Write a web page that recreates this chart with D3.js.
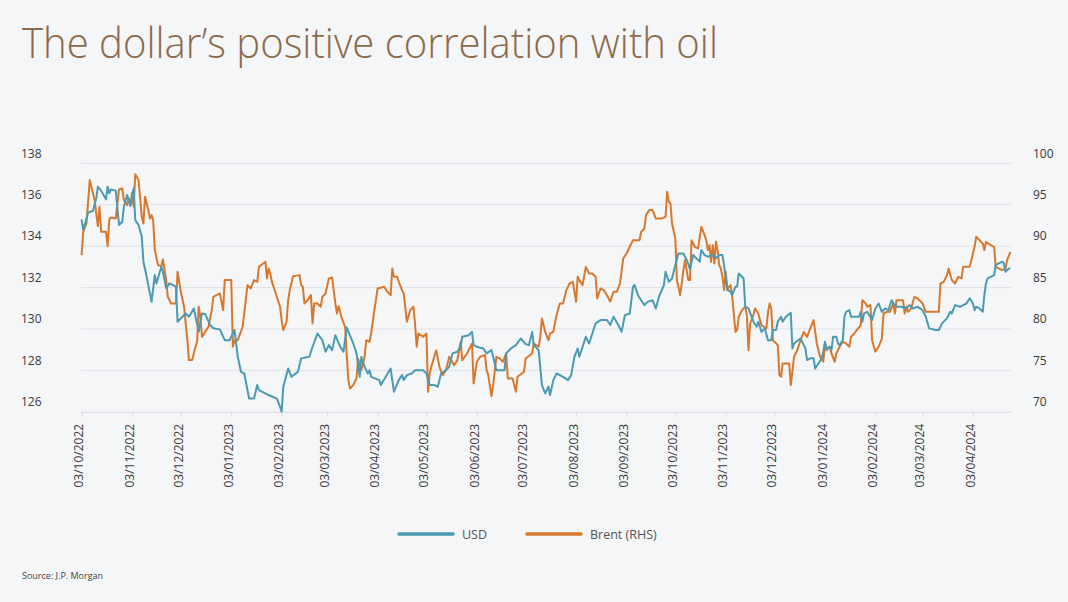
<!DOCTYPE html>
<html>
<head>
<meta charset="utf-8">
<script src="https://cdn.jsdelivr.net/npm/d3@7"></script>
<style>
body{margin:0;background:#f5f6f8;}
text{font-family:"Open Sans",sans-serif;}
</style>
</head>
<body>
<div id="chart"></div>
<script>
// values, USD on left axis, Brent on right
var usdSeries=[
["2022-10-03",135.29],["2022-10-04",134.78],["2022-10-07",135.61],["2022-10-10",135.71],["2022-10-12",136.31],
["2022-10-13",136.87],["2022-10-15",136.68],["2022-10-18",136.26],["2022-10-19",136.87],["2022-10-20",136.55],
["2022-10-21",136.74],["2022-10-24",136.68],["2022-10-26",135.02],["2022-10-28",135.18],["2022-10-29",135.90],
["2022-10-31",136.47],["2022-11-02",135.94],["2022-11-04",136.79],["2022-11-05",135.26],["2022-11-07",135.02],
["2022-11-09",134.45],["2022-11-10",133.25],["2022-11-12",132.52],["2022-11-15",131.31],["2022-11-17",132.60],
["2022-11-18",132.20],["2022-11-21",133.00],["2022-11-22",132.76],["2022-11-24",131.96],["2022-11-26",132.20],
["2022-11-30",132.04],["2022-12-01",130.35],["2022-12-06",130.75],["2022-12-08",130.59],["2022-12-11",130.99],
["2022-12-14",129.86],["2022-12-16",130.75],["2022-12-18",130.72],["2022-12-21",130.19],["2022-12-23",130.03],
["2022-12-27",129.98],["2022-12-30",129.46],["2023-01-02",129.46],["2023-01-05",129.95],["2023-01-07",128.66],
["2023-01-09",127.93],["2023-01-11",127.85],["2023-01-14",126.64],["2023-01-17",126.64],["2023-01-19",127.29],
["2023-01-20",127.05],["2023-01-26",126.81],["2023-01-31",126.64],["2023-02-02",126.24],["2023-02-03",126.00],
["2023-02-04",127.21],["2023-02-07",128.09],["2023-02-09",127.69],["2023-02-13",127.93],["2023-02-15",128.58],
["2023-02-20",128.66],["2023-02-22",129.14],["2023-02-25",129.78],["2023-02-28",129.46],["2023-03-02",128.90],
["2023-03-04",129.22],["2023-03-06",128.98],["2023-03-08",129.70],["2023-03-11",129.14],["2023-03-13",128.90],
["2023-03-15",130.07],["2023-03-19",129.30],["2023-03-21",128.82],["2023-03-23",127.69],["2023-03-24",128.66],
["2023-03-26",128.17],["2023-03-28",127.85],["2023-03-29",128.01],["2023-03-30",127.69],["2023-04-04",127.53],
["2023-04-05",127.29],["2023-04-11",128.09],["2023-04-13",126.97],["2023-04-16",127.53],["2023-04-18",127.77],
["2023-04-19",127.53],["2023-04-21",127.77],["2023-04-24",127.85],["2023-04-26",128.01],["2023-05-01",128.01],
["2023-05-03",127.85],["2023-05-05",127.29],["2023-05-08",127.29],["2023-05-10",127.21],["2023-05-12",127.85],
["2023-05-15",128.01],["2023-05-17",128.17],["2023-05-19",128.82],["2023-05-22",128.90],["2023-05-24",129.14],
["2023-05-25",129.62],["2023-05-29",129.70],["2023-05-31",129.86],["2023-06-01",129.22],["2023-06-03",129.14],
["2023-06-07",129.06],["2023-06-09",128.82],["2023-06-12",128.98],["2023-06-13",128.66],["2023-06-15",128.01],
["2023-06-20",128.01],["2023-06-21",128.82],["2023-06-24",129.06],["2023-06-27",129.22],["2023-06-30",129.54],
["2023-07-03",129.27],["2023-07-05",129.22],["2023-07-07",129.86],["2023-07-08",129.22],["2023-07-11",128.98],
["2023-07-13",127.29],["2023-07-15",126.89],["2023-07-17",127.21],["2023-07-18",126.81],["2023-07-20",127.53],
["2023-07-22",127.85],["2023-07-26",127.69],["2023-07-29",127.53],["2023-07-31",127.77],["2023-08-02",128.66],
["2023-08-04",129.06],["2023-08-05",128.66],["2023-08-07",129.14],["2023-08-09",129.62],["2023-08-11",129.30],
["2023-08-13",129.78],["2023-08-15",130.27],["2023-08-18",130.43],["2023-08-22",130.43],["2023-08-24",130.19],
["2023-08-26",130.59],["2023-08-29",130.19],["2023-08-31",129.86],["2023-09-02",130.67],["2023-09-05",130.75],
["2023-09-07",132.04],["2023-09-08",132.12],["2023-09-10",131.64],["2023-09-12",131.39],["2023-09-14",131.15],
["2023-09-16",131.31],["2023-09-19",131.39],["2023-09-21",130.99],["2023-09-23",131.56],["2023-09-26",132.12],
["2023-09-27",132.76],["2023-09-29",132.28],["2023-10-01",132.44],["2023-10-03",133.09],["2023-10-05",133.65],
["2023-10-08",133.65],["2023-10-10",133.33],["2023-10-12",132.90],["2023-10-14",133.57],["2023-10-16",133.41],
["2023-10-18",133.25],["2023-10-19",133.81],["2023-10-21",133.57],["2023-10-23",133.49],["2023-10-26",133.57],
["2023-10-28",133.41],["2023-10-30",133.57],["2023-11-01",133.57],["2023-11-03",132.52],["2023-11-04",131.88],
["2023-11-06",131.80],["2023-11-07",131.64],["2023-11-09",132.04],["2023-11-10",132.04],["2023-11-11",132.68],
["2023-11-13",132.52],["2023-11-14",132.44],["2023-11-15",131.07],["2023-11-17",130.99],["2023-11-20",130.35],
["2023-11-22",130.11],["2023-11-23",130.35],["2023-11-25",129.86],["2023-11-27",130.03],["2023-11-29",129.46],
["2023-12-01",129.46],["2023-12-02",129.95],["2023-12-04",129.95],["2023-12-05",130.35],["2023-12-07",130.59],
["2023-12-08",130.35],["2023-12-10",130.59],["2023-12-13",130.78],["2023-12-14",129.06],["2023-12-15",129.30],
["2023-12-19",129.54],["2023-12-21",129.22],["2023-12-22",129.06],["2023-12-23",128.50],["2023-12-25",128.58],
["2023-12-27",128.58],["2023-12-28",128.09],["2023-12-30",128.33],["2024-01-01",128.58],["2024-01-02",128.90],
["2024-01-03",129.38],["2024-01-04",129.06],["2024-01-06",129.14],["2024-01-07",128.98],["2024-01-08",129.62],
["2024-01-10",129.62],["2024-01-11",129.30],["2024-01-12",129.22],["2024-01-14",129.46],["2024-01-15",130.59],
["2024-01-16",130.83],["2024-01-18",130.91],["2024-01-19",130.59],["2024-01-24",130.59],["2024-01-25",130.83],
["2024-01-26",130.35],["2024-01-27",130.75],["2024-01-29",130.83],["2024-02-01",130.43],["2024-02-03",130.99],
["2024-02-05",131.23],["2024-02-07",130.83],["2024-02-09",130.99],["2024-02-11",130.91],["2024-02-13",131.39],
["2024-02-14",131.23],["2024-02-16",131.07],["2024-02-19",131.07],["2024-02-22",130.99],["2024-02-24",131.15],
["2024-02-26",130.99],["2024-02-29",131.07],["2024-03-03",130.91],["2024-03-05",130.59],["2024-03-07",130.03],
["2024-03-11",129.95],["2024-03-13",129.95],["2024-03-15",130.27],["2024-03-18",130.51],["2024-03-20",130.83],
["2024-03-21",130.75],["2024-03-23",131.15],["2024-03-26",131.07],["2024-03-28",131.15],["2024-03-30",131.23],
["2024-04-01",131.48],["2024-04-03",131.23],["2024-04-04",130.91],["2024-04-05",131.07],["2024-04-07",130.99],
["2024-04-09",130.83],["2024-04-10",131.64],["2024-04-11",132.20],["2024-04-12",132.44],["2024-04-16",132.60],
["2024-04-17",133.09],["2024-04-21",133.25],["2024-04-22",133.17],["2024-04-23",132.76],["2024-04-25",132.92],
["2024-04-26",132.92]
];
var brentSeries=[
["2022-10-03",88.91],["2022-10-04",91.73],["2022-10-06",92.74],["2022-10-08",97.97],["2022-10-09",97.16],
["2022-10-11",95.55],["2022-10-12",93.94],["2022-10-13",92.41],["2022-10-14",94.75],["2022-10-15",91.73],
["2022-10-18",91.73],["2022-10-19",90.00],["2022-10-20",93.22],["2022-10-21",93.46],["2022-10-24",93.34],
["2022-10-26",96.84],["2022-10-28",96.96],["2022-10-29",95.55],["2022-10-31",94.95],["2022-11-01",95.75],
["2022-11-02",94.95],["2022-11-03",96.44],["2022-11-04",94.75],["2022-11-05",98.69],["2022-11-07",97.97],
["2022-11-09",93.54],["2022-11-10",92.74],["2022-11-11",95.96],["2022-11-13",94.35],["2022-11-14",93.34],
["2022-11-15",93.74],["2022-11-16",93.14],["2022-11-17",89.52],["2022-11-19",87.71],["2022-11-21",87.59],
["2022-11-22",88.39],["2022-11-24",85.90],["2022-11-25",83.88],["2022-11-27",83.08],["2022-11-30",83.08],
["2022-12-01",86.90],["2022-12-03",84.49],["2022-12-05",82.68],["2022-12-07",78.65],["2022-12-08",76.24],
["2022-12-10",76.24],["2022-12-12",77.85],["2022-12-13",78.45],["2022-12-14",82.68],["2022-12-15",81.47],
["2022-12-16",79.05],["2022-12-20",80.26],["2022-12-22",82.27],["2022-12-23",83.88],["2022-12-27",84.29],
["2022-12-29",82.27],["2022-12-30",85.90],["2023-01-03",85.90],["2023-01-04",77.85],["2023-01-05",78.65],
["2023-01-07",78.65],["2023-01-10",80.26],["2023-01-13",85.29],["2023-01-15",84.89],["2023-01-17",85.90],
["2023-01-19",85.69],["2023-01-20",87.50],["2023-01-24",88.11],["2023-01-25",86.10],["2023-01-26",87.30],
["2023-01-27",86.70],["2023-01-28",85.69],["2023-01-30",84.49],["2023-02-02",82.68],["2023-02-03",81.07],
["2023-02-04",79.86],["2023-02-06",80.87],["2023-02-07",83.48],["2023-02-08",84.69],["2023-02-10",86.38],
["2023-02-14",86.50],["2023-02-15",85.29],["2023-02-16",85.09],["2023-02-17",83.08],["2023-02-19",83.48],
["2023-02-21",84.08],["2023-02-22",80.66],["2023-02-23",83.08],["2023-02-25",83.08],["2023-02-27",82.68],
["2023-02-28",83.88],["2023-03-02",84.29],["2023-03-04",86.10],["2023-03-06",86.22],["2023-03-08",83.08],
["2023-03-09",81.87],["2023-03-10",82.76],["2023-03-12",81.27],["2023-03-14",80.26],["2023-03-15",76.84],
["2023-03-16",73.82],["2023-03-17",72.80],["2023-03-19",73.22],["2023-03-21",74.02],["2023-03-22",76.40],
["2023-03-24",75.03],["2023-03-26",76.64],["2023-03-27",78.65],["2023-03-29",78.45],["2023-03-30",79.46],
["2023-04-01",82.27],["2023-04-03",84.89],["2023-04-07",85.09],["2023-04-09",84.49],["2023-04-11",84.08],
["2023-04-12",87.30],["2023-04-13",86.30],["2023-04-15",86.30],["2023-04-16",85.69],["2023-04-18",84.69],
["2023-04-19",84.29],["2023-04-21",80.87],["2023-04-23",82.27],["2023-04-25",82.68],["2023-04-26",80.66],
["2023-04-27",77.85],["2023-04-28",79.46],["2023-05-01",79.05],["2023-05-03",79.46],["2023-05-04",72.41],
["2023-05-05",74.63],["2023-05-06",75.43],["2023-05-09",77.44],["2023-05-11",75.43],["2023-05-13",74.43],
["2023-05-15",75.03],["2023-05-17",76.64],["2023-05-20",75.63],["2023-05-22",76.24],["2023-05-24",78.45],
["2023-05-25",76.24],["2023-05-28",77.04],["2023-05-31",78.25],["2023-06-01",73.42],["2023-06-03",76.04],
["2023-06-05",76.64],["2023-06-08",76.84],["2023-06-09",75.03],["2023-06-10",74.43],["2023-06-12",71.89],
["2023-06-13",73.22],["2023-06-15",76.64],["2023-06-17",76.44],["2023-06-19",76.04],["2023-06-21",77.04],
["2023-06-22",74.02],["2023-06-25",74.02],["2023-06-27",72.41],["2023-06-28",74.23],["2023-07-02",74.83],
["2023-07-03",76.44],["2023-07-07",77.04],["2023-07-08",78.25],["2023-07-11",77.85],["2023-07-12",79.05],
["2023-07-13",81.27],["2023-07-15",79.66],["2023-07-17",78.65],["2023-07-18",79.46],["2023-07-20",79.66],
["2023-07-22",81.67],["2023-07-24",83.08],["2023-07-26",83.08],["2023-07-28",84.69],["2023-07-30",85.49],
["2023-08-01",85.69],["2023-08-03",83.28],["2023-08-04",86.30],["2023-08-05",85.90],["2023-08-07",85.29],
["2023-08-09",87.50],["2023-08-11",86.70],["2023-08-13",86.70],["2023-08-15",86.30],["2023-08-16",83.68],
["2023-08-18",84.89],["2023-08-20",84.69],["2023-08-22",84.08],["2023-08-24",83.28],["2023-08-26",84.49],
["2023-08-28",84.49],["2023-08-30",85.49],["2023-09-01",88.51],["2023-09-03",89.11],["2023-09-05",89.92],
["2023-09-07",90.72],["2023-09-11",90.72],["2023-09-12",91.73],["2023-09-14",92.13],["2023-09-15",93.74],
["2023-09-17",94.35],["2023-09-19",94.35],["2023-09-21",93.34],["2023-09-25",93.34],["2023-09-27",93.54],
["2023-09-28",96.56],["2023-09-29",95.35],["2023-09-30",95.15],["2023-10-01",92.74],["2023-10-03",90.93],
["2023-10-04",85.90],["2023-10-06",84.08],["2023-10-08",87.10],["2023-10-09",88.31],["2023-10-11",85.90],
["2023-10-12",85.90],["2023-10-13",90.72],["2023-10-15",89.92],["2023-10-17",89.72],["2023-10-19",92.33],
["2023-10-21",91.33],["2023-10-22",90.72],["2023-10-23",89.52],["2023-10-24",90.12],["2023-10-25",88.11],
["2023-10-26",90.12],["2023-10-27",87.91],["2023-10-28",90.52],["2023-10-29",89.52],["2023-10-30",87.71],
["2023-10-31",87.30],["2023-11-01",86.30],["2023-11-02",84.69],["2023-11-03",86.90],["2023-11-04",84.69],
["2023-11-05",85.09],["2023-11-06",85.29],["2023-11-07",83.88],["2023-11-09",79.66],["2023-11-10",79.86],
["2023-11-11",81.47],["2023-11-13",82.27],["2023-11-15",82.68],["2023-11-16",81.67],["2023-11-17",77.44],
["2023-11-18",80.66],["2023-11-20",81.67],["2023-11-21",82.47],["2023-11-23",81.87],["2023-11-25",80.46],
["2023-11-28",80.06],["2023-11-29",82.07],["2023-11-30",83.08],["2023-12-01",82.47],["2023-12-02",78.65],
["2023-12-03",78.45],["2023-12-05",78.05],["2023-12-06",74.43],["2023-12-07",74.23],["2023-12-08",75.84],
["2023-12-12",75.84],["2023-12-13",73.22],["2023-12-15",76.64],["2023-12-17",77.44],["2023-12-19",78.65],
["2023-12-21",79.66],["2023-12-23",79.05],["2023-12-25",80.06],["2023-12-27",81.07],["2023-12-29",78.25],
["2023-12-31",76.64],["2024-01-02",76.04],["2024-01-03",78.25],["2024-01-04",77.44],["2024-01-06",77.85],
["2024-01-07",77.04],["2024-01-09",76.04],["2024-01-10",77.04],["2024-01-12",77.85],["2024-01-14",78.45],
["2024-01-16",78.25],["2024-01-18",77.85],["2024-01-19",79.05],["2024-01-21",79.46],["2024-01-25",80.46],
["2024-01-26",83.48],["2024-01-28",83.08],["2024-01-29",82.68],["2024-01-31",82.88],["2024-02-01",78.65],
["2024-02-03",77.24],["2024-02-05",77.85],["2024-02-07",78.85],["2024-02-08",81.87],["2024-02-10",82.07],
["2024-02-12",82.07],["2024-02-14",83.08],["2024-02-15",81.87],["2024-02-16",83.48],["2024-02-20",83.48],
["2024-02-21",81.87],["2024-02-22",82.68],["2024-02-23",82.07],["2024-02-25",82.47],["2024-02-27",83.88],
["2024-02-29",83.68],["2024-03-03",83.08],["2024-03-05",82.07],["2024-03-13",82.07],["2024-03-14",85.49],
["2024-03-16",85.69],["2024-03-18",86.50],["2024-03-19",87.30],["2024-03-21",85.90],["2024-03-23",85.49],
["2024-03-25",86.30],["2024-03-27",86.10],["2024-03-28",87.50],["2024-04-01",87.50],["2024-04-02",88.31],
["2024-04-04",89.92],["2024-04-05",91.13],["2024-04-07",90.72],["2024-04-09",90.32],["2024-04-10",89.52],
["2024-04-11",90.52],["2024-04-12",90.32],["2024-04-14",90.12],["2024-04-16",89.92],["2024-04-17",87.50],
["2024-04-21",87.10],["2024-04-23",87.30],["2024-04-24",88.31],["2024-04-26",89.32]
];
var xTicks=["2022-10-03","2022-11-03","2022-12-03","2023-01-03","2023-02-03","2023-03-03","2023-04-03",
"2023-05-03","2023-06-03","2023-07-03","2023-08-03","2023-09-03","2023-10-03","2023-11-03","2023-12-03",
"2024-01-03","2024-02-03","2024-03-03","2024-04-03"];
var leftTicks=[126,128,130,132,134,136,138];
var rightTicks=[70,75,80,85,90,95,100];
var seriesNames=["USD","Brent (RHS)"];
var seriesColors=["#4b9ab2","#d9782d"];

var parse=d3.utcParse("%Y-%m-%d");
var fmt=d3.utcFormat("%d/%m/%Y");

var svg=d3.select('#chart').append('svg')
    .attr('width',1068).attr('height',602)
    .style('background-color','#f5f6f8');

// plot box: 81..1011 wide, 163..412 tall
var x=d3.scaleUtc().domain([parse("2022-10-03"),parse("2024-04-27")]).range([81.6,1012]);
var yL=d3.scaleLinear().domain([126,138]).range([411.8,163.3]);
var yR=d3.scaleLinear().domain([70,100]).range([411.8,163.3]);

svg.append('text')
    .attr('x',22).attr('y',58)
    .attr('font-size','42px')
    .attr('font-weight',300)
    .attr('fill','#8b6a4b')
    .attr('textLength',696)
    .attr('lengthAdjust','spacingAndGlyphs')
    .text('The dollar\u2019s positive correlation with oil');

// gridlines
svg.append('g').selectAll('line')
    .data(leftTicks.slice(1)).enter()
    .append('line')
    .attr('x1',81).attr('x2',1011)
    .attr('y1',function(d){return yL(d)}).attr('y2',function(d){return yL(d)})
    .style('stroke','#e0e2e6').style('stroke-width',1);

// x axis
var xa=svg.append('g')
    .attr('transform','translate(0,411.8)')
    .call(d3.axisBottom(x).tickValues(xTicks.map(parse)).tickSize(5).tickFormat(fmt));
xa.select('.domain').attr('d','M81,0.5H1011').style('stroke','#d9dbdf');
xa.selectAll('.tick line').style('stroke','#d9dbdf');
xa.selectAll('.tick text')
    .attr('transform','translate(-3,12) rotate(-90)')
    .attr('x',0).attr('y',0).attr('dy','0.35em')
    .style('text-anchor','end')
    .attr('font-size','12px')
    .attr('font-family','"Open Sans",sans-serif')
    .attr('fill','#3a3a3a');

// left axis labels sit a bit above their gridlines
var la=svg.append('g').attr('transform','translate(21,0)')
    .call(d3.axisRight(yL).tickValues(leftTicks).tickSize(0).tickPadding(0));
la.select('.domain').remove();
la.selectAll('text').attr('y',-10).attr('font-size','12px')
    .attr('font-family','"Open Sans",sans-serif').attr('fill','#3a3a3a');

var ra=svg.append('g').attr('transform','translate(1033,0)')
    .call(d3.axisRight(yR).tickValues(rightTicks).tickSize(0).tickPadding(0));
ra.select('.domain').remove();
ra.selectAll('text').attr('y',-10).attr('font-size','12px')
    .attr('font-family','"Open Sans",sans-serif').attr('fill','#3a3a3a');

var usdLine=d3.line()
    .x(function(d){return x(parse(d[0]))})
    .y(function(d){return yL(d[1])});
var brentLine=d3.line()
    .x(function(d){return x(parse(d[0]))})
    .y(function(d){return yR(d[1])});

svg.append('path')
    .attr('d',brentLine(brentSeries))
    .style('fill','none').style('stroke',seriesColors[1])
    .style('stroke-width',2).style('stroke-linejoin','round');
svg.append('path')
    .attr('d',usdLine(usdSeries))
    .style('fill','none').style('stroke',seriesColors[0])
    .style('stroke-width',2).style('stroke-linejoin','round');

// legend
var lg=svg.append('g').selectAll('g')
    .data(seriesNames).enter()
    .append('g')
    .attr('transform',function(d,i){return 'translate('+(399+i*128)+',534)'});
lg.append('line')
    .attr('x1',0).attr('x2',54).attr('y1',0).attr('y2',0)
    .style('stroke',function(d,i){return seriesColors[i]})
    .style('stroke-width',3.5).style('stroke-linecap','round');
lg.append('text')
    .attr('x',63).attr('y',4.5)
    .attr('font-size','12.5px')
    .attr('fill','#555')
    .text(function(d){return d});

svg.append('text')
    .attr('x',22).attr('y',579)
    .attr('font-size','9px')
    .attr('fill','#444')
    .text('Source: J.P. Morgan');
</script>
</body>
</html>
